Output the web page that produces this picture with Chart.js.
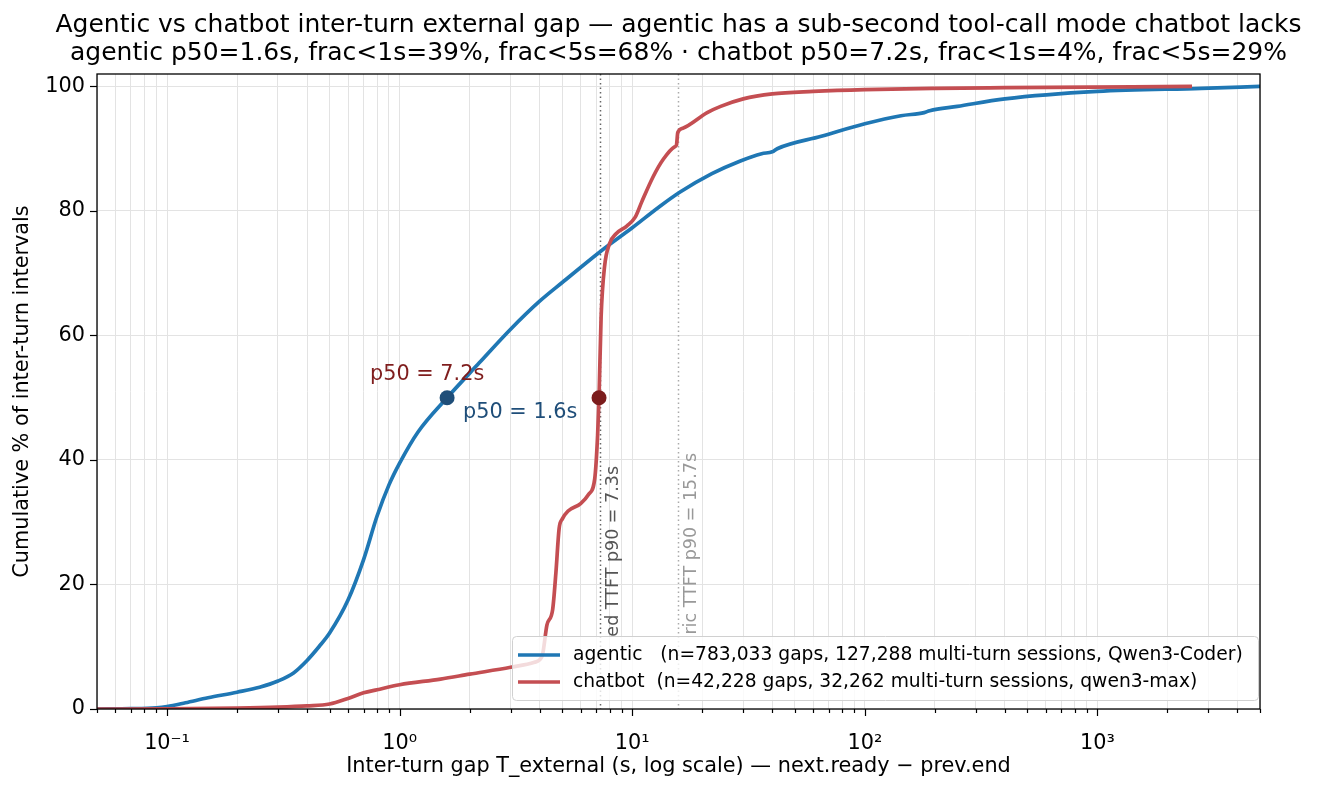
<!DOCTYPE html>
<html>
<head>
<meta charset="utf-8">
<script src="https://cdn.jsdelivr.net/npm/chart.js@4"></script>
<style>
  html, body { margin: 0; padding: 0; background: #fff; }
  #wrap { width: 1317px; height: 793px; }
</style>
</head>
<body>
<div id="wrap"><canvas id="chart" width="1317" height="793"></canvas></div>
<script>
// data
const agenticX = [0.05, 0.07, 0.09, 0.1, 0.12, 0.15, 0.2, 0.25, 0.3, 0.35, 0.4, 0.45, 0.5, 0.6, 0.7, 0.8, 0.9, 1.0, 1.2, 1.6, 2.2, 3.0, 4.0, 5.0, 7.3, 10, 13, 16, 22, 29, 36, 40, 42, 65, 100, 143, 180, 190, 250, 400, 1000, 2800, 5000];
const agenticY = [0, 0.05, 0.2, 0.4, 1.0, 1.8, 2.7, 3.5, 4.5, 5.8, 7.8, 10, 12.2, 17.5, 24, 31, 36, 39.5, 44.5, 50, 55.6, 61, 65.5, 68.5, 73.5, 77.3, 80.6, 83, 86, 88, 89.2, 89.5, 90.0, 92.0, 94, 95.3, 95.8, 96.1, 96.8, 98, 99.2, 99.7, 100];

const chatbotX = [0.05, 0.1, 0.2, 0.3, 0.4, 0.5, 0.6, 0.7, 0.8, 1.0, 1.5, 2.0, 3.0, 3.8, 4.1, 4.3, 4.55, 4.7, 4.85, 5.0, 5.3, 6.0, 6.5, 6.9, 7.1, 7.2, 7.35, 7.6, 8.0, 8.5, 9.5, 10.3, 11.0, 12.3, 13.6, 15.2, 15.5, 15.7, 16.5, 21, 24, 30, 40, 60, 100, 200, 400, 2550];
const chatbotY = [0, 0.02, 0.15, 0.3, 0.5, 0.8, 1.7, 2.6, 3.1, 3.9, 4.8, 5.6, 6.7, 7.5, 8.5, 13.5, 16, 22, 29, 30.5, 31.8, 33, 34.5, 37, 44, 50, 63, 71, 74.8, 76.3, 77.6, 79, 81.5, 85.5, 88.3, 90.3, 90.6, 92.6, 93.3, 95.8, 96.8, 98, 98.8, 99.2, 99.5, 99.7, 99.8, 100];

const seriesLabels = [
  "agentic   (n=783,033 gaps, 127,288 multi-turn sessions, Qwen3-Coder)",
  "chatbot  (n=42,228 gaps, 32,262 multi-turn sessions, qwen3-max)"
];
const p50Values = [1.6, 7.2];
const p50Labels = ["p50 = 1.6s", "p50 = 7.2s"];
const ttftValues = [7.3, 15.7];
const ttftLabels = ["ed TTFT p90 = 7.3s", "ric TTFT p90 = 15.7s"];

const xTicks = [];
for (let e = -2; e <= 3; e++)
  for (let m = 1; m <= 9; m++) {
    const v = m * Math.pow(10, e);
    if (v >= 0.05 - 1e-9 && v <= 5000 + 1e-9) xTicks.push(+v.toPrecision(3));
  }
const yTicks = [0, 20, 40, 60, 80, 100];

const titleLines = [
  "Agentic vs chatbot inter-turn external gap \u2014 agentic has a sub-second tool-call mode chatbot lacks",
  "agentic p50=1.6s, frac<1s=39%, frac<5s=68% \u00b7 chatbot p50=7.2s, frac<1s=4%, frac<5s=29%"
];
const xTitle = "Inter-turn gap T_external (s, log scale) \u2014 next.ready \u2212 prev.end";
const yTitle = "Cumulative % of inter-turn intervals";

const FONT = "'DejaVu Sans', sans-serif";
const BLUE = "#1f77b4", RED = "#c44e52";

const sup = { "-": "\u207b", "0": "\u2070", "1": "\u00b9", "2": "\u00b2", "3": "\u00b3" };
function isDecade(v) {
  const e = Math.log10(v);
  return Math.abs(e - Math.round(e)) < 1e-9;
}

const pts = (xs, ys) => xs.map((x, i) => ({ x, y: ys[i] }));

const extras = {
  id: "extras",
  beforeDatasetsDraw(chart) {
    const { ctx, chartArea: a, scales: { x } } = chart;
    ctx.save();
    ctx.beginPath();
    ctx.rect(a.left, a.top, a.right - a.left, a.bottom - a.top);
    ctx.clip();
    const lineCols = ["#666", "#aaa"];
    const textCols = ["#555", "#999"];
    const textTop = [466, 453];
    ttftValues.forEach((v, i) => {
      const px = Math.round(x.getPixelForValue(v)) + 0.5;
      ctx.strokeStyle = lineCols[i];
      ctx.lineWidth = 1.5;
      ctx.setLineDash([1.5, 3]);
      ctx.beginPath();
      ctx.moveTo(px, a.top);
      ctx.lineTo(px, a.bottom);
      ctx.stroke();
      ctx.setLineDash([]);
      ctx.save();
      ctx.translate(px + 13, textTop[i]);
      ctx.rotate(-Math.PI / 2);
      ctx.fillStyle = textCols[i];
      ctx.font = "17.5px " + FONT;
      ctx.textAlign = "right";
      ctx.textBaseline = "middle";
      ctx.fillText(ttftLabels[i], 0, 0);
      ctx.restore();
    });
    ctx.restore();
  },
  afterDraw(chart) {
    const { ctx, chartArea: a, scales: { x, y } } = chart;
    ctx.save();
    // frame
    ctx.strokeStyle = "#000";
    ctx.lineWidth = 1.3;
    ctx.strokeRect(a.left, a.top, a.right - a.left, a.bottom - a.top);
    // tick marks
    ctx.lineWidth = 1.2;
    xTicks.forEach(v => {
      const px = Math.round(x.getPixelForValue(v)) + 0.5;
      const len = isDecade(v) ? 7 : 4;
      ctx.beginPath();
      ctx.moveTo(px, a.bottom);
      ctx.lineTo(px, a.bottom + len);
      ctx.stroke();
    });
    yTicks.forEach(v => {
      const py = Math.round(y.getPixelForValue(v)) + 0.5;
      ctx.beginPath();
      ctx.moveTo(a.left - 7, py);
      ctx.lineTo(a.left, py);
      ctx.stroke();
    });
    // titles
    ctx.fillStyle = "#000";
    ctx.textAlign = "center";
    ctx.textBaseline = "middle";
    ctx.font = "25px " + FONT;
    const cx = (a.left + a.right) / 2;
    ctx.fillText(titleLines[0], cx, 25);
    ctx.fillText(titleLines[1], cx, 53);
    ctx.font = "20.8px " + FONT;
    ctx.fillText(xTitle, cx, 767);
    ctx.save();
    ctx.translate(23, (a.top + a.bottom) / 2);
    ctx.rotate(-Math.PI / 2);
    ctx.fillText(yTitle, 0, 0);
    ctx.restore();
    // p50 labels
    ctx.font = "20.8px " + FONT;
    ctx.textAlign = "left";
    const bx = x.getPixelForValue(p50Values[0]), rx = x.getPixelForValue(p50Values[1]);
    const py = y.getPixelForValue(50);
    ctx.fillStyle = "#1f4e79";
    ctx.fillText(p50Labels[0], bx + 16, py + 15);
    ctx.fillStyle = "#7f1d1d";
    ctx.fillText(p50Labels[1], rx - 229, py - 23);
    // legend
    const lx = 512, ly = 636, lw = 746, lh = 64;
    ctx.fillStyle = "rgba(255,255,255,0.8)";
    ctx.strokeStyle = "#d0d0d0";
    ctx.lineWidth = 1;
    ctx.beginPath();
    ctx.roundRect(lx + 0.5, ly + 0.5, lw, lh, 4);
    ctx.fill();
    ctx.stroke();
    const cols = [BLUE, RED];
    ctx.font = "18.7px " + FONT;
    seriesLabels.forEach((t, i) => {
      const yy = ly + 19 + i * 27;
      ctx.strokeStyle = cols[i];
      ctx.lineWidth = 3.5;
      ctx.beginPath();
      ctx.moveTo(lx + 6, yy);
      ctx.lineTo(lx + 48, yy);
      ctx.stroke();
      ctx.fillStyle = "#000";
      ctx.fillText(t, lx + 61, yy);
    });
    ctx.restore();
  }
};

new Chart(document.getElementById("chart"), {
  type: "line",
  data: {
    datasets: [
      { label: seriesLabels[0], data: pts(agenticX, agenticY), borderColor: BLUE, borderWidth: 3.7, pointRadius: 0, cubicInterpolationMode: "monotone", order: 3 },
      { label: seriesLabels[1], data: pts(chatbotX, chatbotY), borderColor: RED, borderWidth: 3.7, pointRadius: 0, cubicInterpolationMode: "monotone", order: 2 },
      { label: "agentic p50", data: [{ x: p50Values[0], y: 50 }], showLine: false, pointRadius: 7.5, pointBackgroundColor: "#1f4e79", pointBorderWidth: 0, order: 1 },
      { label: "chatbot p50", data: [{ x: p50Values[1], y: 50 }], showLine: false, pointRadius: 7.5, pointBackgroundColor: "#7b1c1c", pointBorderWidth: 0, order: 1 }
    ]
  },
  options: {
    responsive: false,
    animation: false,
    layout: { padding: { left: 0, right: 57, top: 74, bottom: 0 } },
    plugins: { legend: { display: false }, tooltip: { enabled: false }, title: { display: false } },
    scales: {
      x: {
        type: "logarithmic", min: 0.05, max: 5000,
        afterBuildTicks(s) { s.ticks = xTicks.map(v => ({ value: v })); },
        afterFit(s) { s.height = 84; },
        ticks: {
          autoSkip: false, maxRotation: 0, padding: 22, color: "#000",
          font: { family: FONT, size: 20.8 },
          callback(v) {
            if (!isDecade(v)) return "";
            const e = String(Math.round(Math.log10(v)));
            return "10" + e.split("").map(c => sup[c]).join("");
          }
        },
        grid: { color: "#e3e3e3", lineWidth: 1, drawTicks: false },
        border: { display: false }
      },
      y: {
        min: 0, max: 102,
        afterBuildTicks(s) { s.ticks = yTicks.map(v => ({ value: v })); },
        afterFit(s) { s.width = 97; },
        ticks: { padding: 12, color: "#000", font: { family: FONT, size: 20.8 } },
        grid: { color: "#e3e3e3", lineWidth: 1, drawTicks: false },
        border: { display: false }
      }
    }
  },
  plugins: [extras]
});
</script>
</body>
</html>
